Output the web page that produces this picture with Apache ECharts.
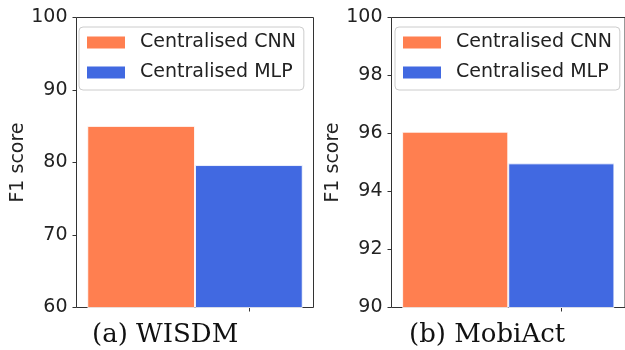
<!DOCTYPE html>
<html>
<head>
<meta charset="utf-8">
<script src="https://cdn.jsdelivr.net/npm/echarts@6/dist/echarts.min.js"></script>
<style>
html,body{margin:0;padding:0;background:#fff;}
#chart{width:625px;height:350px;}
</style>
</head>
<body>
<div id="chart"></div>
<script>
// ---- data ----
const seriesNames = ['Centralised CNN', 'Centralised MLP'];
const barPositions = [-1, 0];            // CNN bar left of the single x tick, MLP on it
const wisdmValues = [85.05, 79.65];
const mobiactValues = [96.06, 94.97];
const captions = ['(a) WISDM', '(b) MobiAct'];
const wisdmTicks = [60, 70, 80, 90, 100];
const mobiactTicks = [90, 92, 94, 96, 98, 100];
const yName = 'F1 score';
const colors = ['#FF7F50', '#4169E1'];

// ---- layout ----
const grids = [
  {left: 76.5, top: 17.5, width: 237, height: 290},
  {left: 391.5, top: 17.5, width: 237, height: 290}
];
const legendPos = [{left: 79, top: 27}, {left: 395, top: 27}];
const captionPos = [{x: 92, y: 335}, {x: 409, y: 335}];
const axisColor = '#333';
const sans = 'DejaVu Sans';

function yAxis(i, ticks) {
  return {
    type: 'value', gridIndex: i,
    min: ticks[0], max: ticks[ticks.length - 1], interval: ticks[1] - ticks[0],
    name: yName, nameLocation: 'middle', nameGap: 48, nameRotate: 90,
    nameTextStyle: {fontFamily: sans, fontSize: 19, color: '#222'},
    axisLine: {show: false, onZero: false},
    axisTick: {show: true, inside: false, length: 4, lineStyle: {color: axisColor, width: 1}},
    axisLabel: {margin: 9, fontFamily: sans, fontSize: 19, color: '#222'},
    splitLine: {show: false}
  };
}
function xAxis(i) {
  return {
    type: 'value', gridIndex: i, min: -1.6, max: 0.6,
    axisLine: {show: false, onZero: false},
    axisTick: {show: true, length: 4, customValues: [barPositions[1]], lineStyle: {color: axisColor, width: 1}},
    axisLabel: {show: false},
    splitLine: {show: false}
  };
}
function bars(i, values) {
  return seriesNames.map((n, k) => ({
    type: 'bar', name: n, xAxisIndex: i, yAxisIndex: i,
    data: [[barPositions[k], values[k]]],
    barWidth: '100%', barGap: '-100%',
    itemStyle: {color: colors[k], borderColor: 'rgba(255,255,255,0.8)', borderWidth: 1},
    emphasis: {disabled: true},
    animation: false
  }));
}
function legend(i) {
  return {
    data: seriesNames, orient: 'vertical',
    left: legendPos[i].left, top: legendPos[i].top,
    icon: 'rect', itemWidth: 38, itemHeight: 12, itemGap: 11,
    padding: [6, 8, 8, 8],
    backgroundColor: 'rgba(255,255,255,0.8)',
    borderColor: '#cccccc', borderWidth: 1, borderRadius: 4,
    itemStyle: {borderWidth: 0},
    textStyle: {fontFamily: sans, fontSize: 19, color: '#222', lineHeight: 19, padding: [0, 0, 0, 10]},
    selectedMode: false
  };
}

const chart = echarts.init(document.getElementById('chart'), null, {renderer: 'canvas'});
chart.setOption({
  animation: false,
  backgroundColor: '#fff',
  color: colors,
  grid: grids.map(g => Object.assign({show: true, borderColor: axisColor, borderWidth: 1, backgroundColor: 'transparent', containLabel: false}, g)),
  xAxis: [xAxis(0), xAxis(1)],
  yAxis: [yAxis(0, wisdmTicks), yAxis(1, mobiactTicks)],
  legend: [legend(0), legend(1)],
  series: [...bars(0, wisdmValues), ...bars(1, mobiactValues)],
  graphic: captions.map((c, i) => ({
    type: 'text', x: captionPos[i].x, y: captionPos[i].y,
    style: {text: c, fontFamily: 'DejaVu Serif', fontSize: 26, fill: '#111', verticalAlign: 'middle', align: 'left'}
  }))
});
</script>
</body>
</html>
